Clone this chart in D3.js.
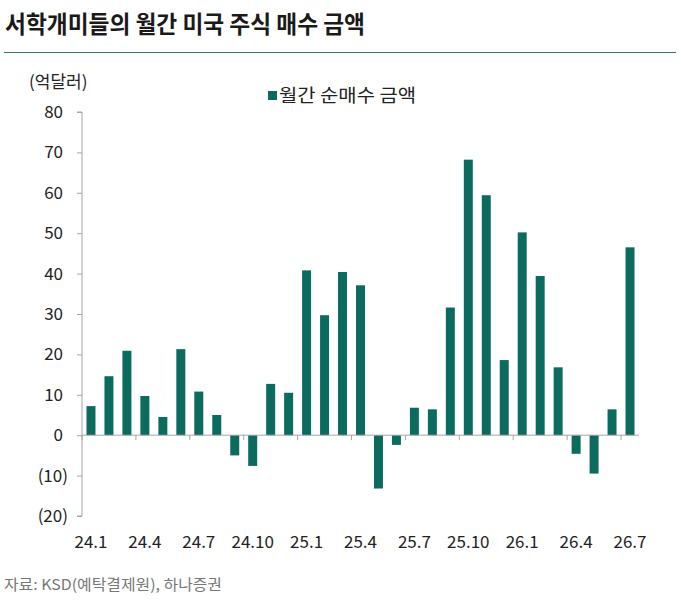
<!DOCTYPE html>
<html>
<head>
<meta charset="utf-8">
<script src="https://cdn.jsdelivr.net/npm/d3@7"></script>
<style>
  body { margin: 0; background: #fff; }
  text { font-family: "Noto Sans CJK KR", "Noto Sans", sans-serif; }
</style>
</head>
<body>
<svg id="chart" width="681" height="604"></svg>
<script>
// monthly categories 24.1 ~ 26.7
const months = [
  "24.1","24.2","24.3","24.4","24.5","24.6","24.7","24.8","24.9","24.10","24.11","24.12",
  "25.1","25.2","25.3","25.4","25.5","25.6","25.7","25.8","25.9","25.10","25.11","25.12",
  "26.1","26.2","26.3","26.4","26.5","26.6","26.7"
];
// 월간 순매수 금액 (억달러)
const netBuy = [
  7.2, 14.6, 20.9, 9.7, 4.5, 21.3, 10.8, 5.0, -5.0, -7.6, 12.7, 10.5,
  40.8, 29.7, 40.4, 37.1, -13.2, -2.4, 6.8, 6.4, 31.6, 68.2, 59.4, 18.6,
  50.2, 39.4, 16.8, -4.6, -9.5, 6.4, 46.5
];
const labelMonths = ["24.1","24.4","24.7","24.10","25.1","25.4","25.7","25.10","26.1","26.4","26.7"];
const yTicks = [-20, -10, 0, 10, 20, 30, 40, 50, 60, 70, 80];

const svg = d3.select("#chart");
const barColor = "#0b6b5e";
const axisColor = "#a6a6a6";

const x = d3.scaleBand()
  .domain(months)
  .range([82, 639])
  .paddingInner(0.5)
  .paddingOuter(0.25);

const y = d3.scaleLinear()
  .domain([-20, 80])
  .range([516, 112]);

// title
svg.append("text")
  .attr("x", 5)
  .attr("y", 33)
  .style("font-size", "24px")
  .style("font-weight", "bold")
  .attr("fill", "#1a1a1a")
  .attr("textLength", 360)
  .attr("lengthAdjust", "spacingAndGlyphs")
  .text("서학개미들의 월간 미국 주식 매수 금액");

svg.append("line")
  .attr("x1", 4).attr("x2", 676)
  .attr("y1", 52.5).attr("y2", 52.5)
  .attr("stroke", "#2b7b6f")
  .attr("stroke-width", 1.2);

// unit
svg.append("text")
  .attr("x", 29)
  .attr("y", 88)
  .style("font-size", "17px")
  .attr("fill", "#222")
  .text("(억달러)");

// legend
svg.append("rect")
  .attr("x", 268).attr("y", 91)
  .attr("width", 9).attr("height", 9)
  .attr("fill", barColor);
svg.append("text")
  .attr("x", 279)
  .attr("y", 102)
  .style("font-size", "18px")
  .attr("fill", "#222")
  .attr("textLength", 137)
  .attr("lengthAdjust", "spacingAndGlyphs")
  .text("월간 순매수 금액");

// y axis
const yAxis = d3.axisLeft(y)
  .tickValues(yTicks)
  .tickSize(5)
  .tickPadding(14)
  .tickFormat(d => d < 0 ? `(${Math.abs(d)})` : `${d}`);

const gy = svg.append("g")
  .attr("transform", "translate(82,0)")
  .call(yAxis);
gy.select(".domain").attr("stroke", axisColor).attr("d", `M-5,${y(-20)}H0V${y(80)}H-5`);
gy.selectAll(".tick line").attr("stroke", axisColor);
gy.selectAll(".tick text")
  .style("font-size", "17px")
  .style("font-family", "'Noto Sans CJK KR', 'Noto Sans', sans-serif")
  .attr("fill", "#222")
  .attr("dx", d => d < 0 ? 5 : 0);

// bars
svg.append("g")
  .selectAll("rect")
  .data(netBuy)
  .enter()
  .append("rect")
  .attr("x", (d, i) => x(months[i]))
  .attr("width", x.bandwidth())
  .attr("y", d => y(Math.max(0, d)))
  .attr("height", d => Math.abs(y(d) - y(0)))
  .attr("fill", barColor);

// x axis at zero
const step = x.step();
const gx = svg.append("g")
  .attr("transform", `translate(0,${y(0)})`);
gx.append("line")
  .attr("x1", 82).attr("x2", 639)
  .attr("y1", 0).attr("y2", 0)
  .attr("stroke", axisColor);
gx.selectAll(".xtick")
  .data(labelMonths)
  .enter()
  .append("line")
  .attr("class", "xtick")
  .attr("x1", d => x(d) + x.bandwidth() / 2 - step / 2)
  .attr("x2", d => x(d) + x.bandwidth() / 2 - step / 2)
  .attr("y1", 0).attr("y2", 5)
  .attr("stroke", axisColor);

// x labels along bottom
svg.append("g")
  .selectAll("text")
  .data(labelMonths)
  .enter()
  .append("text")
  .attr("x", d => x(d) + x.bandwidth() / 2)
  .attr("y", 548)
  .attr("text-anchor", "middle")
  .style("font-size", "17px")
  .attr("fill", "#222")
  .text(d => d);

// source
svg.append("text")
  .attr("x", 4)
  .attr("y", 590)
  .style("font-size", "15px")
  .attr("fill", "#777")
  .attr("textLength", 218)
  .attr("lengthAdjust", "spacingAndGlyphs")
  .text("자료: KSD(예탁결제원), 하나증권");
</script>
</body>
</html>
